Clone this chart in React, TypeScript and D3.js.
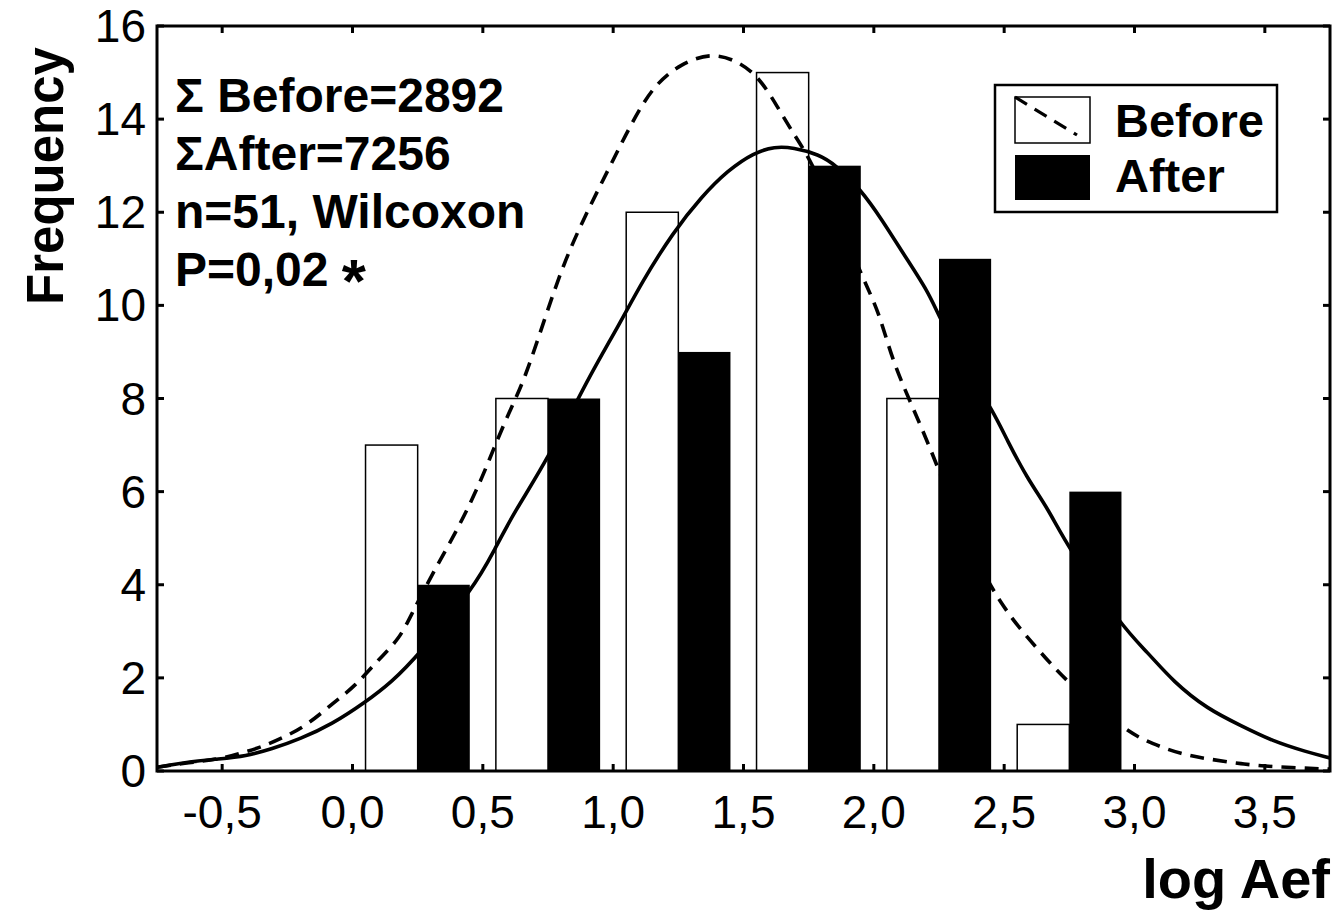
import React from 'react';
import * as d3 from 'd3';

// histogram bins (log Aef), width 0.2
const binWidth = 0.2;
const beforeStart = [0.05, 0.55, 1.05, 1.55, 2.05, 2.55];
const beforeCount = [7, 8, 12, 15, 8, 1];
const afterStart = [0.25, 0.75, 1.25, 1.75, 2.25, 2.75];
const afterCount = [4, 8, 9, 13, 11, 6];

// fitted curves
const beforeFitX = [-0.75, -0.64, -0.51, -0.44, -0.35, -0.26, -0.17, -0.07, 0.01, 0.1, 0.18, 0.23, 0.31, 0.41, 0.49, 0.54, 0.6, 0.66, 0.74, 0.81, 0.89, 0.98, 1.06, 1.15, 1.26, 1.38, 1.48, 1.56, 1.63, 1.69, 1.75, 1.85, 1.96, 2.02, 2.07, 2.14, 2.22, 2.35, 2.49, 2.64, 2.74, 2.97, 3.07, 3.18, 3.28, 3.41, 3.53, 3.75];
const beforeFitY = [0.08, 0.17, 0.26, 0.36, 0.51, 0.73, 1.0, 1.48, 1.82, 2.4, 2.83, 3.41, 4.27, 5.26, 6.2, 6.9, 7.7, 8.4, 9.76, 10.9, 11.9, 12.9, 13.8, 14.7, 15.2, 15.43, 15.24, 14.9, 14.27, 13.7, 13.2, 12.0, 10.56, 9.85, 8.84, 7.92, 6.9, 5.0, 3.5, 2.55, 1.91, 0.84, 0.58, 0.36, 0.26, 0.15, 0.09, 0.04];
const afterFitX = [-0.75, -0.64, -0.51, -0.41, -0.31, -0.2, -0.08, 0.05, 0.15, 0.25, 0.47, 0.54, 0.62, 0.75, 0.9, 1.02, 1.11, 1.23, 1.34, 1.44, 1.54, 1.62, 1.69, 1.79, 1.85, 1.95, 2.03, 2.12, 2.21, 2.25, 2.35, 2.46, 2.51, 2.59, 2.67, 2.74, 2.95, 3.05, 3.15, 3.28, 3.41, 3.53, 3.66, 3.75];
const afterFitY = [0.08, 0.19, 0.26, 0.32, 0.47, 0.69, 1.0, 1.48, 1.91, 2.47, 3.97, 4.7, 5.56, 6.7, 8.4, 9.55, 10.5, 11.57, 12.34, 12.9, 13.28, 13.41, 13.39, 13.24, 13.03, 12.49, 11.85, 11.05, 10.28, 9.76, 8.7, 7.7, 7.12, 6.27, 5.62, 4.85, 3.11, 2.55, 1.91, 1.33, 0.97, 0.64, 0.41, 0.28];

const xTicks = [-0.5, 0, 0.5, 1, 1.5, 2, 2.5, 3, 3.5];
const xTickLabels = ['-0,5', '0,0', '0,5', '1,0', '1,5', '2,0', '2,5', '3,0', '3,5'];
const yTicks = [0, 2, 4, 6, 8, 10, 12, 14, 16];
const statLines = ['Σ Before=2892', 'ΣAfter=7256', 'n=51, Wilcoxon', 'P=0,02 '];
const legendLabels = ['Before', 'After'];

const W = 1342;
const H = 916;
const left = 157;
const right = 1330;
const top = 26;
const bottom = 771;
const font = '"Liberation Sans", Arial, Helvetica, sans-serif';
const dash = '14 9';

export default function App() {
  const x = d3.scaleLinear().domain([-0.75, 3.75]).range([left, right]);
  const y = d3.scaleLinear().domain([0, 16]).range([bottom, top]);

  const line = d3.line<[number, number]>()
    .x(d => x(d[0]))
    .y(d => y(d[1]))
    .curve(d3.curveBasis);

  const beforePath = line(beforeFitX.map((v, i) => [v, beforeFitY[i]] as [number, number])) || '';
  const afterPath = line(afterFitX.map((v, i) => [v, afterFitY[i]] as [number, number])) || '';

  return (
    <svg width={W} height={H} style={{ position: 'absolute', left: 0, top: 0, background: '#fff' }}>
      <defs>
        <clipPath id="plot">
          <rect x={left} y={top} width={right - left} height={bottom - top} />
        </clipPath>
      </defs>

      {/* before bars */}
      {beforeStart.map((s, i) => (
        <rect key={'b' + i} x={x(s)} y={y(beforeCount[i])} width={x(s + binWidth) - x(s)}
          height={y(0) - y(beforeCount[i])} fill="#fff" stroke="#000" strokeWidth={1.5} />
      ))}

      {/* fitted curves */}
      <g clipPath="url(#plot)">
        <path d={beforePath} fill="none" stroke="#000" strokeWidth={3.6} strokeDasharray={dash} />
        <path d={afterPath} fill="none" stroke="#000" strokeWidth={3.6} />
      </g>

      {/* after bars */}
      {afterStart.map((s, i) => (
        <rect key={'a' + i} x={x(s)} y={y(afterCount[i])} width={x(s + binWidth) - x(s)}
          height={y(0) - y(afterCount[i])} fill="#000" />
      ))}

      {/* frame */}
      <rect x={left} y={top} width={right - left} height={bottom - top} fill="none" stroke="#000" strokeWidth={3} />

      {/* ticks */}
      {xTicks.map(t => (
        <g key={'xt' + t}>
          <line x1={x(t)} x2={x(t)} y1={bottom} y2={bottom - 7} stroke="#000" strokeWidth={3} />
          <line x1={x(t)} x2={x(t)} y1={top} y2={top + 7} stroke="#000" strokeWidth={3} />
        </g>
      ))}
      {yTicks.map(t => (
        <g key={'yt' + t}>
          <line x1={left} x2={left + 7} y1={y(t)} y2={y(t)} stroke="#000" strokeWidth={3} />
          <line x1={right} x2={right - 7} y1={y(t)} y2={y(t)} stroke="#000" strokeWidth={3} />
        </g>
      ))}

      {/* tick labels */}
      <g fontFamily={font} fontSize={46} fill="#000">
        {xTicks.map((t, i) => (
          <text key={'xl' + t} x={x(t)} y={828} textAnchor="middle">{xTickLabels[i]}</text>
        ))}
        {yTicks.map(t => (
          <text key={'yl' + t} x={146} y={y(t) + 16} textAnchor="end">{t}</text>
        ))}
      </g>

      {/* axis titles */}
      <text x={0} y={0} transform={`translate(63, 176) rotate(-90)`} textAnchor="middle"
        fontFamily={font} fontWeight="bold" fontSize={51}>Frequency</text>
      <text x={1330} y={898} textAnchor="end" fontFamily={font} fontWeight="bold" fontSize={56}>log Aef</text>

      {/* stats */}
      <g fontFamily={font} fontWeight="bold" fontSize={48}>
        {statLines.map((s, i) => (
          <text key={s} x={175} y={112 + i * 58}>
            {s}
            {i === statLines.length - 1 && <tspan fontSize={62} dy={16}>*</tspan>}
          </text>
        ))}
      </g>

      {/* legend */}
      <rect x={995} y={85} width={282} height={127} fill="#fff" stroke="#000" strokeWidth={2.5} />
      <rect x={1015} y={97} width={75} height={46} fill="#fff" stroke="#000" strokeWidth={1.5} />
      <line x1={1015} y1={97} x2={1077} y2={135} stroke="#000" strokeWidth={3.2} strokeDasharray={dash} />
      <rect x={1015} y={155} width={75} height={45} fill="#000" />
      <g fontFamily={font} fontWeight="bold" fontSize={47}>
        <text x={1115} y={137}>{legendLabels[0]}</text>
        <text x={1115} y={192}>{legendLabels[1]}</text>
      </g>
    </svg>
  );
}
